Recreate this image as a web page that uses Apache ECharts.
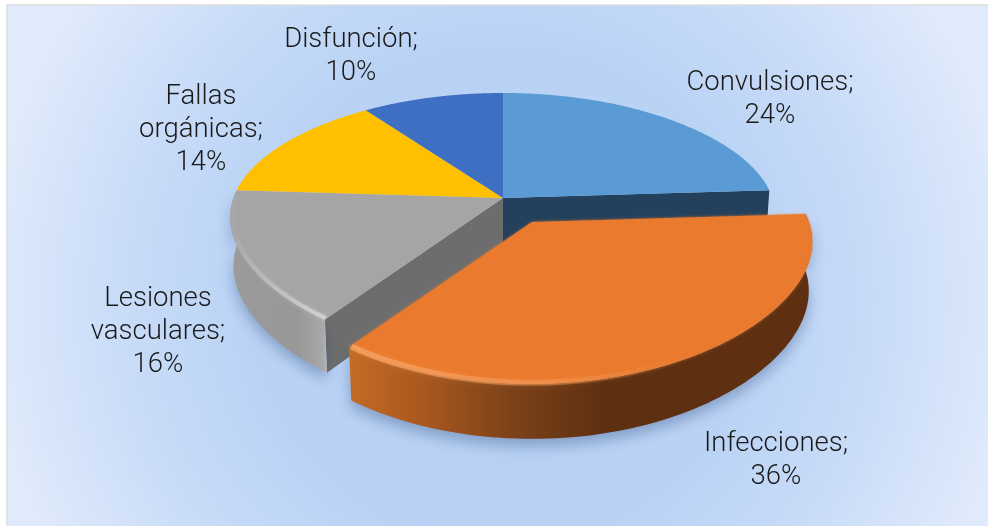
<!DOCTYPE html>
<html><head><meta charset="utf-8">
<style>html,body{margin:0;padding:0;background:#fff}#c{width:988px;height:526px}</style>
<script src="https://cdn.jsdelivr.net/npm/echarts@6/dist/echarts.min.js"></script>
</head><body><div id="c"></div>
<script>
const categories = ['Convulsiones','Infecciones','Lesiones vasculares','Fallas orgánicas','Disfunción'];
const shares = [24,36,16,14,10];
const topColors = ['#5b9bd5','#ea7a2d','#a5a5a5','#ffc000','#3f6fc2'];
const cutColors = ['#23405c','#5e3011','#6d6d6d','#8a6a00','#223d6c'];

const total = shares.reduce((a,b)=>a+b,0);
const labelAt = [[770,67],[776,428],[158,283],[201,81],[351,24]];
const R=263, KR=126, PX=0.16, PY=0.2, PH=0.12;
function geom(i){ return categories[i]==='Infecciones' ? {cx:532,cy:222,scale:1.027,h:48.5,z:10}
                                                       : {cx:503,cy:198,scale:1,h:48,z:0}; }
function pt(g,t,r){
  const st=Math.sin(t), u=st*r*(1+0.025*st*st*st*st), v=Math.cos(t)*r;
  const sx=1/(1+PX*v), sy=1/(1+PY*v);
  return [g.cx+u*R*g.scale*sx, g.cy-v*KR*g.scale*sy];
}
function low(g,p,t,r){
  const v=Math.cos(t)*r;
  return [p[0]+(g.cx-p[0])*0.012, p[1]+g.h/(1+PH*v)];
}
function arc(g,a,b,r){ const o=[]; const n=90; for(let k=0;k<=n;k++){ o.push(pt(g,a+(b-a)*k/n,r)); } return o; }
function lin(stops){ return {type:'linear',x:0,y:0,x2:1,y2:0,colorStops:stops}; }

function renderItem(params,api){
  const i=params.dataIndex, val=api.value(0);
  let before=0; for(let k=0;k<i;k++) before+=shares[k];
  const a=before/total*2*Math.PI, b=(before+val)/total*2*Math.PI;
  const g=geom(i), name=categories[i], ch=[];
  const rim=arc(g,a,b,1), apex=[g.cx,g.cy];
  const bottom=[]; for(let k=0;k<=90;k++){ const t=a+(b-a)*k/90; bottom.push(low(g,rim[k],t,1)); }
  const apexLow=[g.cx,g.cy+g.h];
  function cut(t){
    const p=pt(g,t,1), q=low(g,p,t,1);
    ch.push({type:'polygon',z2:g.z+1,shape:{points:[apex,p,q,apexLow]},style:{fill:cutColors[i]}});
  }
  if(b<Math.PI) cut(b);
  if(a>Math.PI && a<1.5*Math.PI) cut(a);
  let wallFill=cutColors[i];
  if(name==='Infecciones') wallFill=lin([{offset:0,color:'#c46a26'},{offset:.16,color:'#a9581f'},{offset:.36,color:'#7a4019'},{offset:.55,color:'#5e3011'},{offset:1,color:'#5e3011'}]);
  if(name==='Lesiones vasculares') wallFill=lin([{offset:0,color:'#9b9b9b'},{offset:.7,color:'#989898'},{offset:.95,color:'#a8a8a8'},{offset:1,color:'#b5b5b5'}]);
  if(a>0 && a<1.5*Math.PI){
    ch.push({type:'polygon',z2:g.z+1,shape:{points:rim.concat(bottom.slice().reverse())},
      style:{fill:wallFill,shadowBlur:14,shadowOffsetY:7,shadowColor:'rgba(45,75,125,0.38)'}});
  }
  const topStyle={fill:topColors[i]};
  if(name==='Infecciones'){ topStyle.shadowBlur=3; topStyle.shadowColor='rgba(234,122,45,0.8)'; }
  ch.push({type:'polygon',z2:g.z+3,shape:{points:[apex].concat(rim)},style:topStyle});
  if(name==='Infecciones'){
    const edge=arc(g,Math.PI*0.85,b-0.006,0.995);
    const st=lin([{offset:0,color:'rgba(248,170,110,0.7)'},{offset:.6,color:'rgba(246,165,100,0.4)'},{offset:1,color:'rgba(246,165,100,0)'}]);
    ch.push({type:'polyline',z2:g.z+4,shape:{points:edge},style:{stroke:st,lineWidth:6,fill:null,shadowBlur:6,shadowColor:'rgba(246,165,100,0.3)'}});
  }
  if(name==='Lesiones vasculares'){
    const edge=arc(g,a+0.004,b-0.05,0.992);
    const st=lin([{offset:0,color:'rgba(205,205,205,0)'},{offset:.4,color:'rgba(200,200,200,0.55)'},{offset:1,color:'rgba(215,215,215,0.9)'}]);
    ch.push({type:'polyline',z2:g.z+4,shape:{points:edge},style:{stroke:st,lineWidth:4,fill:null,shadowBlur:4,shadowColor:'rgba(215,215,215,0.5)'}});
  }
  ch.push({type:'text',z2:30,style:{
    text:name.replace(' ','\n')+';\n'+val+'%',
    x:labelAt[i][0],y:labelAt[i][1],textAlign:'center',textVerticalAlign:'top',
    fontFamily:'Roboto',fontWeight:300,fontSize:27.5,lineHeight:33,fill:'#1a1a1a'}});
  return {type:'group',children:ch};
}

const chart=echarts.init(document.getElementById('c'),null,{renderer:'canvas'});
chart.setOption({
  animation:false,
  backgroundColor:'#fff',
  graphic:[{type:'rect',z:-10,silent:true,
    shape:{x:7,y:5,width:990,height:530},
    style:{stroke:'#dddddd',lineWidth:1.5,
      fill:{type:'radial',x:0.5,y:0.55,r:0.96,colorStops:[
        {offset:0,color:'#b3cef3'},{offset:.5,color:'#bad3f5'},{offset:.75,color:'#c9dcf8'},{offset:1,color:'#dfeafb'}]}}}],
  series:[{type:'custom',coordinateSystem:'none',silent:true,clip:false,
    data:shares.map(v=>[v]),renderItem:renderItem}]
});
</script></body></html>
